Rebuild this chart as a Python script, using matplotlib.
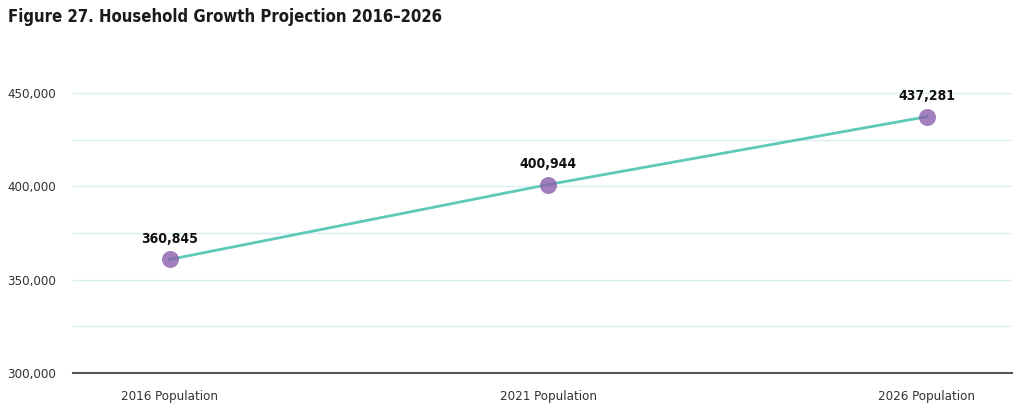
import numpy as np
import matplotlib.pyplot as plt

categories = ['2016 Population', '2021 Population', '2026 Population']
households = [360845, 400944, 437281]
yticks = [300000, 350000, 400000, 450000]
grid_vals = [325000, 375000, 425000]

plt.rcParams['font.family'] = ['DejaVu Sans']
plt.rcParams['font.stretch'] = 'condensed'

fig = plt.figure(figsize=(10.24, 4.05), dpi=100)
ax = fig.add_axes([0.0713, 0.079, 0.9167, 0.7375])

x = np.arange(len(categories))
ax.plot(x, households, color='#5ec9b6', lw=2, zorder=3)
ax.scatter(x, households, s=150, color='#8a5fab', alpha=0.8, zorder=4, linewidths=0)

for xi, v in zip(x, households):
    ax.annotate(f'{v:,}', (xi, v), xytext=(0, 10), textcoords='offset points',
                ha='center', va='bottom', fontsize=10, fontweight='bold', color='#111111')

ax.set_xlim(-0.256, 2.225)
ax.set_ylim(300000, 460000)
ax.set_xticks(x)
ax.set_xticklabels(categories, fontsize=9.5, color='#333333')
ax.set_yticks(yticks)
ax.set_yticklabels([f'{v:,}' for v in yticks], fontsize=9.5, color='#333333')
ax.set_yticks(grid_vals, minor=True)
ax.tick_params(axis='both', which='both', length=0)
ax.tick_params(axis='x', pad=12)
ax.tick_params(axis='y', pad=12)
ax.yaxis.grid(True, which='both', color='#d8eef4', lw=1)
ax.set_axisbelow(True)

for s in ['top', 'right', 'left']:
    ax.spines[s].set_visible(False)
ax.spines['bottom'].set_color('#555555')
ax.spines['bottom'].set_linewidth(1.5)

fig.text(0.008, 0.958, 'Figure 27. Household Growth Projection 2016\u20132026',
         fontsize=12, fontweight='bold', color='#1a1a1a', va='center', ha='left')

fig.savefig('out.png', dpi=100, facecolor='white')
